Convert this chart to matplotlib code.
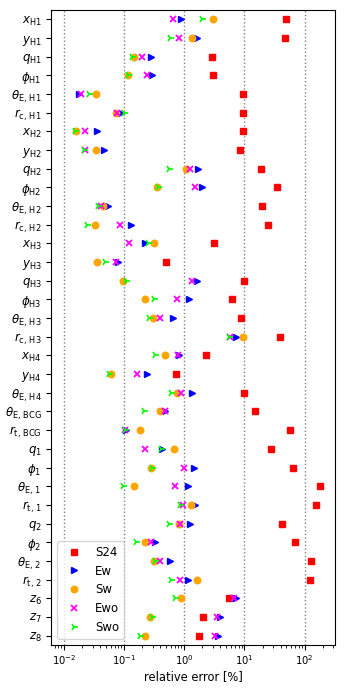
import numpy as np
import matplotlib
matplotlib.use('Agg')
import matplotlib.pyplot as plt

# parameter labels, top to bottom
params = [r'$x_{\rm H1}$', r'$y_{\rm H1}$', r'$q_{\rm H1}$', r'$\phi_{\rm H1}$',
          r'$\theta_{\rm E,\,H1}$', r'$r_{\rm c,\,H1}$',
          r'$x_{\rm H2}$', r'$y_{\rm H2}$', r'$q_{\rm H2}$', r'$\phi_{\rm H2}$',
          r'$\theta_{\rm E,\,H2}$', r'$r_{\rm c,\,H2}$',
          r'$x_{\rm H3}$', r'$y_{\rm H3}$', r'$q_{\rm H3}$', r'$\phi_{\rm H3}$',
          r'$\theta_{\rm E,\,H3}$', r'$r_{\rm c,\,H3}$',
          r'$x_{\rm H4}$', r'$y_{\rm H4}$', r'$\theta_{\rm E,\,H4}$',
          r'$\theta_{\rm E,\,BCG}$', r'$r_{\rm t,\,BCG}$',
          r'$q_1$', r'$\phi_1$', r'$\theta_{\rm E,\,1}$', r'$r_{\rm t,\,1}$',
          r'$q_2$', r'$\phi_2$', r'$\theta_{\rm E,\,2}$', r'$r_{\rm t,\,2}$',
          r'$z_6$', r'$z_7$', r'$z_8$']

# relative errors in percent
s24 = [49, 48, 2.88, 3.06, 9.4, 9.6, 9.6, 8.3, 18.9, 35, 19.9, 24.4,
       3.18, 0.49, 9.75, 6.25, 8.8, 38.5, 2.3, 0.728, 10.0, 15.0, 57,
       27.3, 63, 182, 154, 42, 70, 126, 122, 5.57, 2.06, 1.77]
ew = [0.88, 1.64, 0.28, 0.29, 0.0175, 0.088, 0.035, 0.046, 1.69, 1.94, 0.0536, 0.13,
      0.226, 0.0796, 1.64, 1.19, 0.64, 7.18, 0.826, 0.238, 1.37, 0.48, 0.108,
      0.426, 1.45, 1.16, 1.52, 1.27, 0.33, 0.57, 1.15, 7.28, 3.95, 3.57]
sw = [3.06, 1.32, 0.148, 0.115, 0.034, 0.0746, 0.016, 0.034, 1.07, 0.357, 0.0443, 0.0335,
      0.318, 0.0352, 0.095, 0.223, 0.303, 9.4, 0.479, 0.060, 0.756, 0.39, 0.182,
      0.674, 0.284, 0.146, 1.29, 0.826, 0.22, 0.31, 1.66, 0.88, 0.27, 0.22]
ewo = [0.64, 0.82, 0.20, 0.24, 0.0191, 0.076, 0.0226, 0.022, 1.26, 1.5, 0.0416, 0.087,
       0.121, 0.0736, 1.34, 0.746, 0.40, 5.78, 0.775, 0.164, 0.90, 0.472, 0.105,
       0.226, 1.0, 0.70, 0.96, 0.86, 0.284, 0.395, 0.84, 6.83, 3.44, 3.22]
swo = [2.0, 0.59, 0.134, 0.118, 0.026, 0.101, 0.0152, 0.0212, 0.55, 0.37, 0.0366, 0.0238,
       0.253, 0.049, 0.109, 0.318, 0.256, 5.57, 0.327, 0.057, 0.60, 0.214, 0.104,
       0.416, 0.29, 0.096, 0.86, 0.557, 0.158, 0.33, 0.61, 0.69, 0.288, 0.187]

fig = plt.figure(figsize=(3.45, 6.89), dpi=100)
ax = fig.add_axes([0.149, 0.064, 0.822, 0.9215])

y = np.arange(len(params))
ms = 4.7
ax.plot(s24, y, 's', color='red', ms=ms, label='S24')
ax.plot(ew, y, '>', color='blue', ms=ms, label='Ew')
ax.plot(sw, y, 'o', color='orange', ms=ms, label='Sw')
ax.plot(ewo, y, 'x', color='magenta', ms=ms, mew=1.3, label='Ewo')
ax.plot(swo, y, '4', color='lime', ms=ms + 0.5, mew=1.2, label='Swo')

ax.set_xscale('log')
ax.set_xlim(6.2e-3, 3.2e2)
ax.set_ylim(len(params) - 0.5, -0.5)
ax.set_yticks(y)
ax.set_yticklabels(params, fontsize=8.5)
ax.tick_params(axis='x', labelsize=7.2, pad=2.5)
ax.grid(axis='x', which='major', ls=':', color='gray', lw=1)
ax.set_xlabel('relative error [%]', fontsize=8.3, labelpad=2)
ax.legend(loc='lower left', fontsize=8.5)

fig.savefig('out.png', dpi=100)
